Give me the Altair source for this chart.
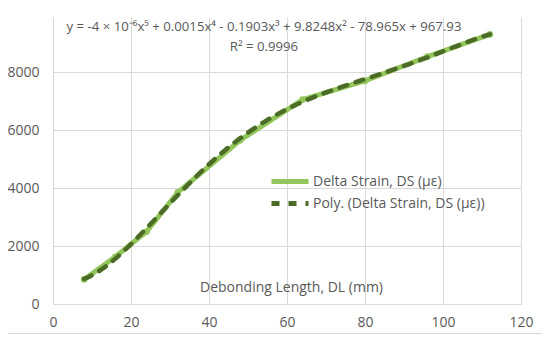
import altair as alt
import pandas as pd

dl = [8, 16, 24, 32, 48, 64, 80, 96, 112]
ds = [850, 1630, 2500, 3850, 5650, 7050, 7700, 8530, 9300]
series_names = ["Delta Strain, DS (με)", "Poly. (Delta Strain, DS (με))"]
equation = ["y = -4 × 10⁻⁶x⁵ + 0.0015x⁴ - 0.1903x³ + 9.8248x² - 78.965x + 967.93", "R² = 0.9996"]
x_title = "Debonding Length, DL (mm)"

FONT = "Open Sans"
GREY = "#595959"
LIGHT = "#92C65A"
DARK = "#4B6B27"

df = pd.DataFrame({"x": dl, "y": ds})
eq_df = pd.DataFrame({"t": equation, "row": [0, 1]})

color = alt.Color("series:N", scale=alt.Scale(domain=series_names, range=[LIGHT, DARK]),
                  legend=alt.Legend(title=None, orient="none", legendX=225, legendY=152.5, padding=0,
                                    symbolType="M-2,0L2,0", symbolSize=342, symbolStrokeWidth=5,
                                    labelFont=FONT, labelFontSize=14, labelColor=GREY,
                                    labelLimit=0, rowPadding=-5.5, labelOffset=11))
dash = alt.StrokeDash("series:N", scale=alt.Scale(domain=series_names, range=[[1, 0], [8, 9]]),
                      legend=None)

xenc = alt.X("x:Q", scale=alt.Scale(domain=[0, 120]),
             axis=alt.Axis(values=[0, 20, 40, 60, 80, 100, 120], title=x_title, titleY=-24,
                           titleX=238, titleAlign="center",
                           titleFont=FONT, titleFontSize=14, titleFontWeight="normal", titleColor=GREY,
                           labelFont=FONT, labelFontSize=14, labelColor=GREY, labelPadding=11,
                           labelFlush=False, ticks=False, domainColor="#D9D9D9", gridColor="#D9D9D9"))
yenc = alt.Y("y:Q", scale=alt.Scale(domain=[0, 9900], nice=False),
             axis=alt.Axis(values=[0, 2000, 4000, 6000, 8000], title=None, format="d",
                           labelFont=FONT, labelFontSize=14, labelColor=GREY, labelPadding=14,
                           labelFlush=False, ticks=False, domain=False, gridColor="#D9D9D9"))

base = alt.Chart(df)

data_line = base.transform_calculate(series="'" + series_names[0] + "'").mark_line(
    strokeWidth=5, point=alt.OverlayMarkDef(size=45, filled=True, color=LIGHT)
).encode(x=xenc, y=yenc, color=color, strokeDash=dash)

trend = base.transform_regression("x", "y", method="poly", order=5).transform_calculate(
    series="'" + series_names[1] + "'"
).mark_line(strokeWidth=4.5, strokeCap="round").encode(x="x:Q", y="y:Q", color=color, strokeDash=dash)

eq = alt.Chart(eq_df).transform_calculate(py="10 + datum.row * 20").mark_text(
    font=FONT, fontSize=13.2, color=GREY, baseline="middle", align="center"
).encode(text="t:N", x=alt.value(211), y=alt.Y("py:Q", scale=None))

frame = alt.Chart(df).mark_rect(fill=None, stroke="#D9D9D9", strokeWidth=1).encode(
    x=alt.value(-60), x2=alt.value(489.5), y=alt.value(-20), y2=alt.value(316.5)
)

chart = alt.layer(frame, data_line, trend, eq).resolve_scale(
    color="shared", strokeDash="shared"
).properties(
    width=468, height=287,
    autosize=alt.AutoSizeParams(type="none"),
    padding={"left": 45, "top": 9, "right": 21, "bottom": 31},
).configure_view(stroke=None)

chart.save("out.html", embed_options={"renderer": "svg", "actions": False})
